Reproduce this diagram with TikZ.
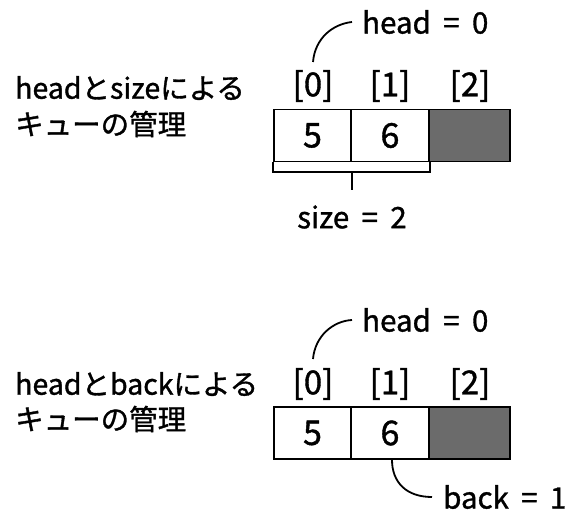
\documentclass[tikz,border=0pt]{standalone}
\usepackage{fontspec}
\setmainfont[FakeBold=1.2,AutoFakeBold=1.2]{Noto Sans CJK JP}
\newcommand{\eqsp}{\hspace{0.42em}=\hspace{0.42em}}
\begin{document}
\begin{tikzpicture}[x=1pt,y=-1pt,
  txt/.style={inner sep=0pt,font=\fontsize{29.5}{34}\selectfont\bfseries},
  ttl/.style={txt,font=\fontsize{28.5}{34}\selectfont\bfseries},
  idx/.style={txt,font=\fontsize{33}{36}\selectfont\bfseries},
  cell/.style={draw,line width=1.6pt,minimum height=52pt,inner sep=0pt,font=\fontsize{34}{36}\selectfont\bfseries},
  shade/.style={cell,fill=black!58},
  conn/.style={line width=1.8pt}]
\useasboundingbox (0,0) rectangle (565,513);

% ---------- upper diagram ----------
\node[ttl,anchor=west] (t1a) at (15,88) {headとsizeによる};
\node[ttl,anchor=west] (t1b) at (15,124) {キューの管理};

\node[idx] (i10) at (313,86) {[0]};
\node[idx] (i11) at (390,86) {[1]};
\node[idx] (i12) at (470,86) {[2]};

\node[cell,minimum width=77pt] (c10) at (312.5,135.5) {5};
\node[cell,minimum width=78pt] (c11) at (390,135.5) {6};
\node[shade,minimum width=81pt] (c12) at (469.5,135.5) {};

\node[txt,anchor=west,inner xsep=10pt] (h1) at (352,22) {head\eqsp 0};
\coordinate (a1) at (313,62);
\draw[conn] (a1) .. controls (315,38) and (333,24) .. (h1.west);

\draw[conn] (c10.south west) -- ++(0,10) -| (c11.south east);
\draw[conn] ([yshift=-10pt]c10.south east) -- ++(0,18) coordinate (s1);
\node[txt] (sz) at (352,217) {size\eqsp 2};

% ---------- lower diagram ----------
\node[ttl,anchor=west] (t2a) at (15,384) {headとbackによる};
\node[ttl,anchor=west] (t2b) at (15,419) {キューの管理};

\node[idx] (i20) at (313,384) {[0]};
\node[idx] (i21) at (390,384) {[1]};
\node[idx] (i22) at (470,384) {[2]};

\node[cell,minimum width=77pt] (c20) at (312.5,433) {5};
\node[cell,minimum width=78pt] (c21) at (390,433) {6};
\node[shade,minimum width=81pt] (c22) at (469.5,433) {};

\node[txt,anchor=west,inner xsep=10pt] (h2) at (352,320) {head\eqsp 0};
\coordinate (a2) at (313,359);
\draw[conn] (a2) .. controls (315,336) and (333,321) .. (h2.west);

\node[txt,anchor=west,inner xsep=11pt] (bk) at (432,497) {back\eqsp 1};
\draw[conn] ([xshift=2pt]c21.south) .. controls (392,482) and (406,497) .. (bk.west);
\end{tikzpicture}
\end{document}
